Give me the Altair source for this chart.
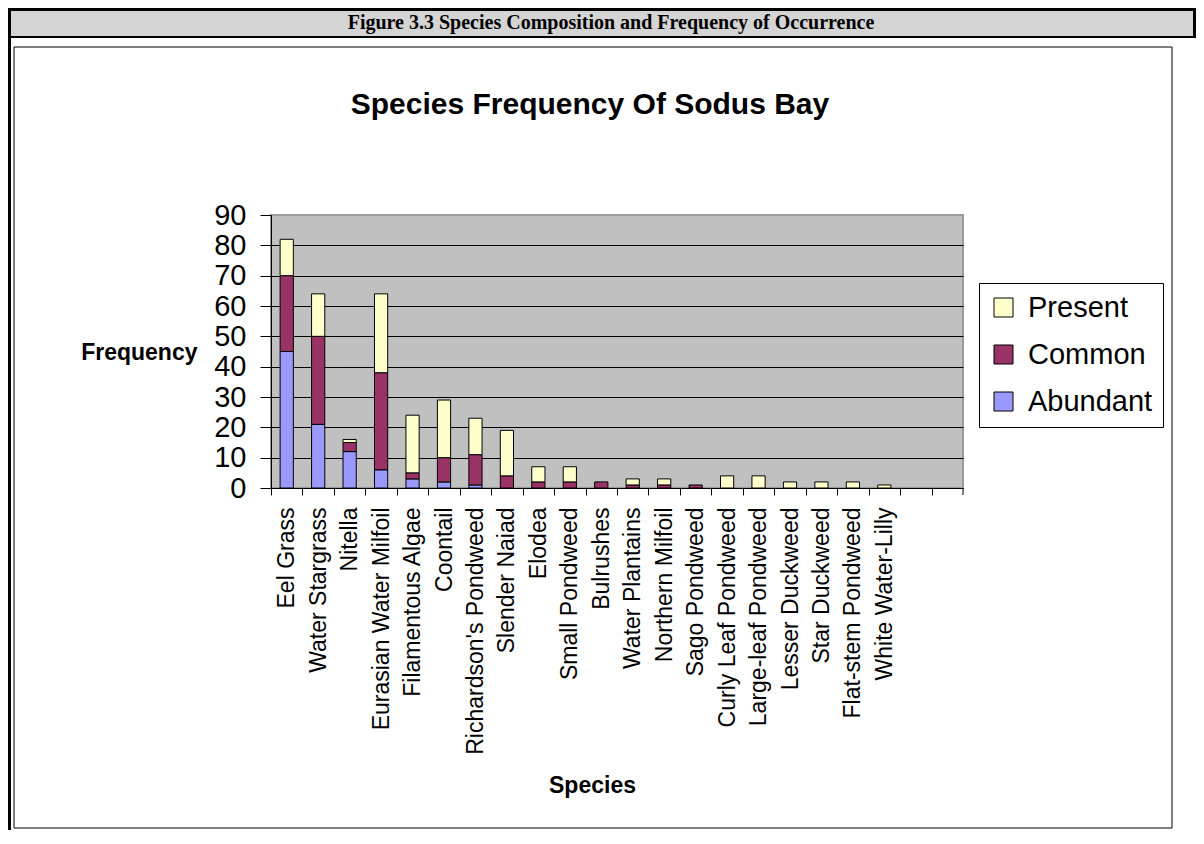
import altair as alt
import pandas as pd

species = ["Eel Grass", "Water Stargrass", "Nitella", "Eurasian Water Milfoil",
           "Filamentous Algae", "Coontail", "Richardson's Pondweed", "Slender Naiad",
           "Elodea", "Small Pondweed", "Bulrushes", "Water Plantains",
           "Northern Milfoil", "Sago Pondweed", "Curly Leaf Pondweed",
           "Large-leaf Pondweed", "Lesser Duckweed", "Star Duckweed",
           "Flat-stem Pondweed", "White Water-Lilly"]
blank_slots = [" ", "  "]
abundant = [45, 21, 12, 6, 3, 2, 1, 0, 0, 0, 0, 0, 0, 0, 0, 0, 0, 0, 0, 0]
common = [25, 29, 3, 32, 2, 8, 10, 4, 2, 2, 2, 1, 1, 1, 0, 0, 0, 0, 0, 0]
present = [12, 14, 1, 26, 19, 19, 12, 15, 5, 5, 0, 2, 2, 0, 4, 4, 2, 2, 2, 1]
levels = ["Present", "Common", "Abundant"]
colors = ["#FFFFCC", "#993366", "#9999FF"]
y_ticks = [0, 10, 20, 30, 40, 50, 60, 70, 80, 90]

domain = species + blank_slots
rows = []
for i, s in enumerate(species):
    for lvl, vals, rank in (("Abundant", abundant, 0), ("Common", common, 1), ("Present", present, 2)):
        rows.append({"species": s, "level": lvl, "count": vals[i], "rank": rank})
df = pd.DataFrame(rows)
one = pd.DataFrame({"a": [0]})

SANS = "Liberation Sans"
SERIF = "Liberation Serif"
W, H = 692, 273
STEP = W / len(domain)

xscale = alt.Scale(domain=domain, paddingInner=0.58, paddingOuter=0.29)

# decorative page frame (relative to plot origin)
header_bg = alt.Chart(one).mark_rect(color="#D4D4D4").encode(
    x=alt.value(-263), x2=alt.value(925), y=alt.value(-207), y2=alt.value(-178))
top_border = alt.Chart(one).mark_rect(color="black").encode(
    x=alt.value(-263), x2=alt.value(925), y=alt.value(-207), y2=alt.value(-204))
header_line = alt.Chart(one).mark_rect(color="black").encode(
    x=alt.value(-263), x2=alt.value(925), y=alt.value(-179), y2=alt.value(-177))
left_border = alt.Chart(one).mark_rect(color="black").encode(
    x=alt.value(-263), x2=alt.value(-260), y=alt.value(-207), y2=alt.value(625))
right_border = alt.Chart(one).mark_rect(color="black").encode(
    x=alt.value(922), x2=alt.value(925), y=alt.value(-207), y2=alt.value(-177))
inner_box = alt.Chart(one).mark_rect(fillOpacity=0, stroke="black", strokeWidth=1).encode(
    x=alt.value(-257), x2=alt.value(901), y=alt.value(-168), y2=alt.value(613))
header_text = alt.Chart(one).mark_text(
    font=SERIF, fontSize=20, fontWeight="bold", color="black", baseline="middle", align="center"
).encode(x=alt.value(340), y=alt.value(-192), text=alt.value("Figure 3.3 Species Composition and Frequency of Occurrence"))
chart_title = alt.Chart(one).mark_text(
    font=SANS, fontSize=30, fontWeight="bold", color="black", baseline="middle", align="center"
).encode(x=alt.value(319), y=alt.value(-110), text=alt.value("Species Frequency Of Sodus Bay"))
end_tick = alt.Chart(one).mark_rule(color="black", strokeWidth=1).encode(
    x=alt.value(W), y=alt.value(H), y2=alt.value(H + 7))

bars = alt.Chart(df).transform_filter("datum.count > 0").mark_bar(
    stroke="black", strokeWidth=1
).encode(
    x=alt.X("species:N", scale=xscale,
            axis=alt.Axis(labelAngle=270, labelAlign="right", labelBaseline="middle",
                          labelFont=SANS, labelFontSize=23, labelColor="black",
                          labelPadding=12, labelLimit=0, labelOverlap=False,
                          ticks=True, tickSize=7, tickColor="black", tickWidth=1,
                          tickOffset=-STEP / 2, labelOffset=STEP / 2,
                          grid=False, domainColor="black", domainWidth=1,
                          title="Species", titleFont=SANS, titleFontSize=23,
                          titleFontWeight="bold", titleColor="black",
                          titleX=321, titleY=297, titleBaseline="middle", titleAlign="center")),
    y=alt.Y("count:Q", stack="zero",
            scale=alt.Scale(domain=[0, 90], nice=False),
            axis=alt.Axis(values=y_ticks, tickSize=11, tickColor="black", domainColor="black",
                          labelFont=SANS, labelFontSize=29, labelColor="black", labelPadding=14,
                          grid=True,
                          gridColor={"condition": {"test": "datum.value === 90", "value": "#A0A0A0"}, "value": "black"},
                          gridWidth=1,
                          title="Frequency", titleAngle=0, titleAlign="right", titleBaseline="middle",
                          titleX=-74, titleY=137, titleFont=SANS, titleFontSize=23,
                          titleFontWeight="bold", titleColor="black")),
    color=alt.Color("level:N", scale=alt.Scale(domain=levels, range=colors),
                    legend=alt.Legend(title=None, orient="none", legendX=708, legendY=68,
                                      symbolType="square", symbolSize=361,
                                      symbolStrokeColor="black", symbolStrokeWidth=1,
                                      labelFont=SANS, labelFontSize=29, labelColor="black",
                                      labelOffset=10, rowPadding=17, padding=10,
                                      strokeColor="black", fillColor="white")),
    order=alt.Order("rank:Q", sort="ascending"),
)

chart = alt.layer(
    header_bg, top_border, header_line, left_border, right_border, inner_box,
    header_text, chart_title, bars, end_tick
).properties(
    width=W, height=H,
    autosize=alt.AutoSizeParams(type="none"),
    padding={"left": 263, "top": 207, "right": 233, "bottom": 342},
    background="white",
).configure_view(
    fill="#C0C0C0", stroke="#999999", strokeWidth=2
)

chart.save("out.html", embed_options={"renderer": "svg", "actions": False})
